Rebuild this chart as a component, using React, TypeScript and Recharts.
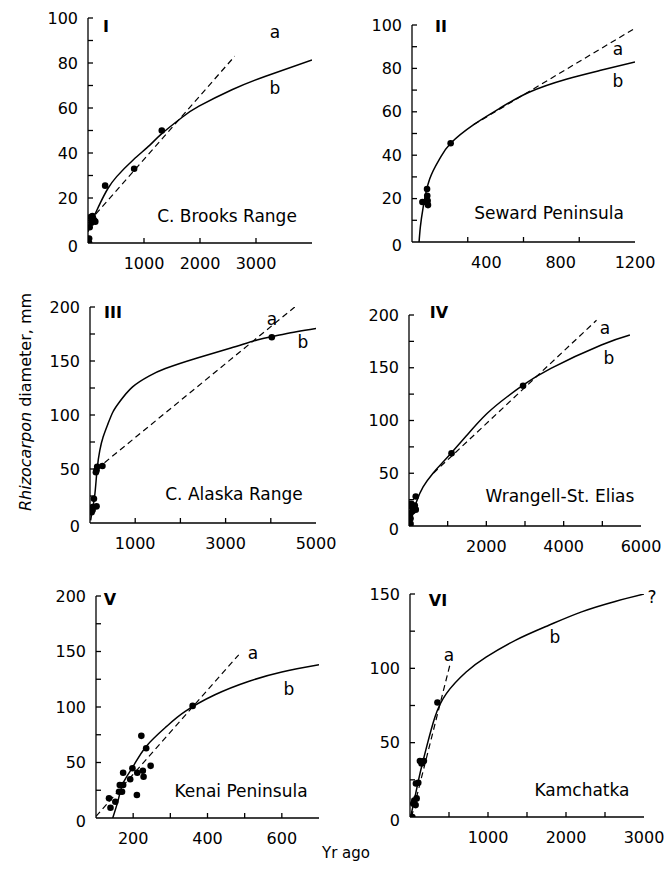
import React from 'react'
import { ComposedChart, XAxis, YAxis, Scatter, Line } from 'recharts'

type Pt = { x: number; y: number }
const pts = (arr: number[][]): Pt[] => arr.map(([x, y]) => ({ x, y }))

const FONT = "'DejaVu Sans', Verdana, sans-serif"

// I - C. Brooks Range
const brooksPoints = pts([[20, 0], [20, 2], [30, 7], [45, 11.5], [80, 12], [110, 10], [130, 9.5], [60, 9], [90, 11], [306, 25.5], [824, 33], [1318, 50]])
const brooksCurve = pts([[0, 5], [50, 9], [100, 11.5], [218, 17.7], [350, 24], [512, 29.5], [806, 36.9], [1100, 43.4], [1318, 48.6], [1688, 56], [1982, 60.8], [2570, 68.1], [3159, 74], [4000, 81.3]])
const brooksLine = pts([[20, 9.5], [2620, 83]])

// II - Seward Peninsula
const sewardPoints = pts([[56, 18.4], [74, 18.4], [81, 24.4], [82, 21.3], [84, 19], [86, 17], [208, 45.5]])
const sewardCurve = pts([[38, 0], [45, 7], [60, 16], [95, 29], [150, 38.5], [208, 45.5], [330, 54], [470, 61.5], [630, 69], [830, 75], [1010, 79], [1200, 83]])
const sewardLine = pts([[330, 54], [1200, 98.5]])

// III - C. Alaska Range
const alaskaPoints = pts([[87, 22.5], [145, 48.8], [159, 52], [130, 47], [275, 52.8], [58, 14.8], [145, 15.4], [36, 10], [58, 12], [4022, 172]])
const alaskaCurve = pts([[14, 2.5], [60, 14], [109, 27.2], [159, 50.3], [217, 67.3], [290, 79.6], [399, 92], [507, 102.8], [652, 112], [942, 126], [1304, 136], [1667, 143], [2391, 153], [3116, 162], [3696, 169.5], [4058, 172.8], [4565, 177], [5000, 180]])
const alaskaLine = pts([[150, 50], [4530, 200]])

// IV - Wrangell-St. Elias
const wrangellPoints = pts([[174, 28], [1100, 69], [2950, 133], [0, 21], [60, 21], [150, 19.5], [175, 15.5], [40, 12], [40, 7], [40, 2], [100, 16.5], [20, 19], [90, 14]])
const wrangellCurve = pts([[40, 5], [191, 22.8], [365, 37], [626, 50.3], [887, 60.8], [1104, 69.6], [1496, 86], [2017, 106.6], [2539, 122.5], [2948, 133.5], [3670, 149.4], [4974, 171.5], [5713, 181]])
const wrangellLine = pts([[630, 50], [4850, 195]])

// V - Kenai Peninsula
const kenaiPoints = pts([[222, 74], [235, 62.8], [198, 44.8], [211, 40.8], [226, 42.6], [228, 37.2], [247, 47], [173, 40.8], [192, 34.9], [164, 29.7], [173, 29.7], [162, 23.7], [170, 23.7], [210, 20.7], [135, 17.7], [152, 14.7], [139, 9.3], [360, 101]])
const kenaiCurve = pts([[145, 0], [160, 16.5], [173, 31.5], [200, 46.5], [235, 64.5], [290, 82.5], [340, 96], [420, 111], [510, 123], [600, 131.5], [700, 138]])
const kenaiLine = pts([[100, 1.5], [484, 147]])

// VI - Kamchatka
const kamchatkaPoints = pts([[30, 0], [42, 9], [55, 11], [72, 8], [85, 12.5], [76, 22.5], [106, 23], [127, 37.7], [178, 37.7], [148, 36], [352, 77]])
const kamchatkaCurve = pts([[8, 0], [64, 13.5], [127, 29], [212, 47], [318, 67], [466, 83], [720, 97.5], [975, 107.5], [1356, 119], [1780, 129], [2200, 138], [2630, 145], [3000, 150]])
const kamchatkaLine = pts([[20, 0], [510, 102]])

// tick values
const y100Ticks = [0, 10, 20, 30, 40, 50, 60, 70, 80, 90, 100]
const y100Labels = [0, 20, 40, 60, 80, 100]
const y200Ticks = [0, 25, 50, 75, 100, 125, 150, 175, 200]
const y200Labels = [0, 50, 100, 150, 200]
const y150Ticks = [0, 25, 50, 75, 100, 125, 150]
const y150Labels = [0, 50, 100, 150]

type PanelProps = {
  left: number
  top: number
  width: number
  height: number
  xDomain: [number, number]
  yDomain: [number, number]
  xTicks: number[]
  xMarks: number[]
  xLabels: number[]
  yTicks: number[]
  yLabels: number[]
  points: Pt[]
  curveB: Pt[]
  lineA: Pt[]
}

function Panel(p: PanelProps) {
  const XTick = (props: any) => {
    const { x, y, payload } = props
    const v = payload.value
    return (
      <g>
        {p.xMarks.includes(v) && <line x1={x} x2={x} y1={y} y2={y - 5} stroke="#000" strokeWidth={1.3} />}
        {p.xLabels.includes(v) && (
          <text x={x} y={y + 26} textAnchor="middle" fontSize={16} fontFamily={FONT} fill="#000">{v}</text>
        )}
      </g>
    )
  }
  const YTick = (props: any) => {
    const { x, y, payload } = props
    const v = payload.value
    return (
      <g>
        {v !== p.yDomain[0] && <line x1={x} x2={x + 5} y1={y} y2={y} stroke="#000" strokeWidth={1.3} />}
        {p.yLabels.includes(v) && (
          <text x={x - 10} y={v === p.yDomain[0] ? y + 3 : y} textAnchor="end" dominantBaseline="central" fontSize={16} fontFamily={FONT} fill="#000">{v}</text>
        )}
      </g>
    )
  }
  return (
    <div style={{ position: 'absolute', left: p.left - 60, top: p.top - 20 }}>
      <ComposedChart width={p.width + 80} height={p.height + 50} margin={{ top: 20, right: 20, bottom: 0, left: 0 }}>
        <XAxis
          type="number"
          dataKey="x"
          domain={p.xDomain}
          allowDataOverflow
          ticks={p.xTicks}
          interval={0}
          tickSize={0}
          tickMargin={0}
          tickLine={false}
          tick={XTick}
          height={30}
          axisLine={{ stroke: '#000', strokeWidth: 1.3 }}
        />
        <YAxis
          type="number"
          dataKey="y"
          domain={p.yDomain}
          allowDataOverflow
          ticks={p.yTicks}
          interval={0}
          tickSize={0}
          tickMargin={0}
          tickLine={false}
          tick={YTick}
          width={60}
          axisLine={{ stroke: '#000', strokeWidth: 1.3 }}
        />
        <Line data={p.lineA} dataKey="y" type="linear" stroke="#000" strokeWidth={1.2} strokeDasharray="6 4" dot={false} isAnimationActive={false} />
        <Line data={p.curveB} dataKey="y" type="natural" stroke="#000" strokeWidth={1.5} dot={false} isAnimationActive={false} />
        <Scatter
          data={p.points}
          fill="#000"
          isAnimationActive={false}
          shape={(s: any) => <circle cx={s.cx} cy={s.cy} r={3.3} fill="#000" />}
        />
      </ComposedChart>
    </div>
  )
}

const T = (props: { x: number; y: number; children: React.ReactNode; size?: number; bold?: boolean }) => (
  <text
    x={props.x}
    y={props.y}
    textAnchor="middle"
    dominantBaseline="central"
    fontSize={props.size ?? 17}
    fontWeight={props.bold ? 'bold' : 'normal'}
    fontFamily={FONT}
    fill="#000"
  >
    {props.children}
  </text>
)

export default function App() {
  return (
    <div style={{ position: 'absolute', left: 0, top: 0, width: 667, height: 869, background: '#fff', overflow: 'hidden' }}>
      <Panel left={88} top={18} width={224} height={225} xDomain={[0, 4000]} yDomain={[0, 100]}
        xTicks={[1000, 2000, 3000]} xMarks={[1000, 2000, 3000]} xLabels={[1000, 2000, 3000]}
        yTicks={y100Ticks} yLabels={y100Labels}
        points={brooksPoints} curveB={brooksCurve} lineA={brooksLine} />
      <Panel left={412} top={25} width={223} height={217} xDomain={[0, 1200]} yDomain={[0, 100]}
        xTicks={[300, 400, 600, 800, 900, 1200]} xMarks={[300, 600, 900]} xLabels={[400, 800, 1200]}
        yTicks={y100Ticks} yLabels={y100Labels}
        points={sewardPoints} curveB={sewardCurve} lineA={sewardLine} />
      <Panel left={90} top={307} width={226} height={216} xDomain={[0, 5000]} yDomain={[0, 200]}
        xTicks={[1000, 2000, 3000, 4000, 5000]} xMarks={[1000, 2000, 3000, 4000]} xLabels={[1000, 3000, 5000]}
        yTicks={y200Ticks} yLabels={y200Labels}
        points={alaskaPoints} curveB={alaskaCurve} lineA={alaskaLine} />
      <Panel left={409} top={315} width={232} height={211} xDomain={[0, 6000]} yDomain={[0, 200]}
        xTicks={[1000, 2000, 3000, 4000, 5000, 6000]} xMarks={[1000, 2000, 3000, 4000, 5000]} xLabels={[2000, 4000, 6000]}
        yTicks={y200Ticks} yLabels={y200Labels}
        points={wrangellPoints} curveB={wrangellCurve} lineA={wrangellLine} />
      <Panel left={96} top={596} width={223} height={222} xDomain={[100, 700]} yDomain={[0, 200]}
        xTicks={[200, 300, 400, 500, 600]} xMarks={[200, 300, 400, 500, 600]} xLabels={[200, 400, 600]}
        yTicks={y200Ticks} yLabels={y200Labels}
        points={kenaiPoints} curveB={kenaiCurve} lineA={kenaiLine} />
      <Panel left={410} top={594} width={234} height={223} xDomain={[0, 3000]} yDomain={[0, 150]}
        xTicks={[500, 1000, 1500, 2000, 2500, 3000]} xMarks={[500, 1000, 1500, 2000, 2500]} xLabels={[1000, 2000, 3000]}
        yTicks={y150Ticks} yLabels={y150Labels}
        points={kamchatkaPoints} curveB={kamchatkaCurve} lineA={kamchatkaLine} />

      <svg width={667} height={869} style={{ position: 'absolute', left: 0, top: 0, pointerEvents: 'none' }}>
        <T x={106} y={26} bold size={16}>I</T>
        <T x={275} y={32}>a</T>
        <T x={275} y={88}>b</T>
        <T x={227} y={216}>C. Brooks Range</T>

        <T x={441} y={26} bold size={16}>II</T>
        <T x={618} y={49}>a</T>
        <T x={618} y={81}>b</T>
        <T x={549} y={213}>Seward Peninsula</T>

        <T x={113} y={312} bold size={16}>III</T>
        <T x={272} y={319}>a</T>
        <T x={303} y={342}>b</T>
        <T x={234} y={494}>C. Alaska Range</T>

        <T x={439} y={312} bold size={16}>IV</T>
        <T x={605} y={328}>a</T>
        <T x={609} y={358}>b</T>
        <T x={560} y={496}>Wrangell-St. Elias</T>

        <T x={110} y={599} bold size={16}>V</T>
        <T x={253} y={653}>a</T>
        <T x={289} y={689}>b</T>
        <T x={241} y={791}>Kenai Peninsula</T>

        <T x={438} y={600} bold size={16}>VI</T>
        <T x={449} y={655}>a</T>
        <T x={555} y={637}>b</T>
        <T x={652} y={597}>?</T>
        <T x={582} y={790}>Kamchatka</T>

        <text x={346} y={858} textAnchor="middle" fontSize={15} fontFamily={FONT} fill="#000">Yr ago</text>
        <text
          transform="translate(25, 402) rotate(-90)"
          textAnchor="middle"
          dominantBaseline="central"
          fontSize={16}
          fontFamily={FONT}
          fill="#000"
        >
          <tspan fontStyle="italic">Rhizocarpon</tspan> diameter, mm
        </text>
      </svg>
    </div>
  )
}
